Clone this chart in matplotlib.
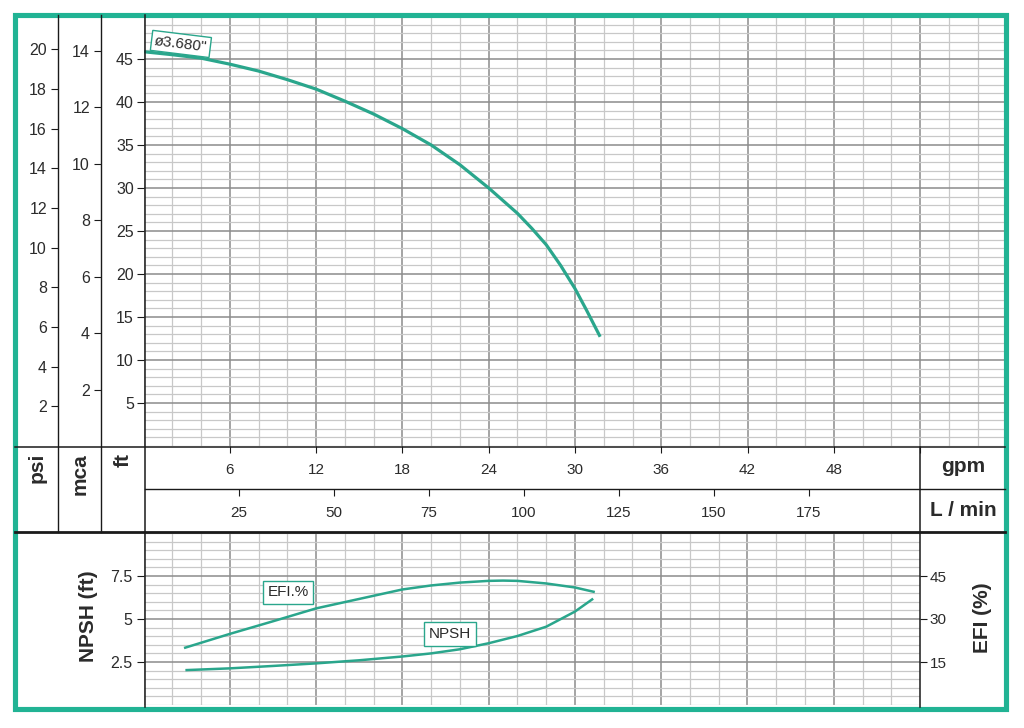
import matplotlib
matplotlib.use("Agg")
import matplotlib.pyplot as plt
import numpy as np
from matplotlib.ticker import MultipleLocator
from matplotlib.patches import Rectangle

plt.rcParams['font.family'] = ['Liberation Sans', 'DejaVu Sans']

# head curve (ft) vs flow (gpm)
gpm_head = [0, 2, 4, 6, 8, 10, 12, 14, 16, 18, 20, 22, 24, 26, 27, 28, 29, 30, 30.8, 31.75]
head_ft = [45.85, 45.5, 45.1, 44.4, 43.6, 42.6, 41.5, 40.1, 38.6, 36.9, 35.0, 32.7, 30.0,
           27.05, 25.3, 23.4, 21.0, 18.3, 15.8, 12.7]

# efficiency (%) vs flow (gpm)
gpm_efi = [2.9, 6, 9, 12, 15, 18, 20, 22, 24, 25, 26, 28, 30, 31.3]
efi_pct = [20.0, 24.8, 29.2, 33.7, 37.0, 40.3, 41.7, 42.7, 43.3, 43.4, 43.3, 42.4, 41.0, 39.5]

# NPSH (ft) vs flow (gpm)
gpm_npsh = [3, 6, 9, 12, 15, 18, 20, 22, 24, 26, 28, 30, 31.2]
npsh_ft = [2.03, 2.13, 2.27, 2.42, 2.6, 2.82, 3.0, 3.24, 3.59, 4.01, 4.55, 5.43, 6.14]

gpm_ticks = [6, 12, 18, 24, 30, 36, 42, 48]
lpm_ticks = [25, 50, 75, 100, 125, 150, 175]
ft_ticks = [5, 10, 15, 20, 25, 30, 35, 40, 45]
psi_ticks = [2, 4, 6, 8, 10, 12, 14, 16, 18, 20]
mca_ticks = [2, 4, 6, 8, 10, 12, 14]
npsh_ticks = [2.5, 5, 7.5]
efi_ticks = [15, 30, 45]

W, H = 1024, 728
TEAL = '#21b394'
CURVE = '#2aa68c'
TXT = '#2b2b2b'
MAJ = '#8c8c8c'
MIN = '#c8c8c8'
BLK = '#1a1a1a'


def box(x0, y0, x1, y1):
    return [x0 / W, 1 - y1 / H, (x1 - x0) / W, (y1 - y0) / H]


def set_grid(ax, ymin):
    ax.xaxis.set_minor_locator(MultipleLocator(2))
    ax.yaxis.set_minor_locator(MultipleLocator(ymin))
    ax.grid(which='major', color=MAJ, lw=1.1)
    ax.grid(which='minor', color=MIN, lw=0.9)
    ax.set_axisbelow(True)
    ax.tick_params(which='minor', length=0)
    for s in ax.spines.values():
        s.set_visible(False)


fig = plt.figure(figsize=(W / 100, H / 100), dpi=100)

# ---- top: head curve ----
ax = fig.add_axes(box(143.5, 16, 1006.5, 446))
ax.set_xlim(0, 60)
ax.set_ylim(0, 50)
ax.set_xticks(np.arange(6, 60, 6), [str(v) if v in gpm_ticks else '' for v in range(6, 60, 6)])
ax.set_yticks(ft_ticks, [str(v) for v in ft_ticks])
set_grid(ax, 1)
ax.tick_params(axis='x', which='major', direction='out', length=5, pad=7,
               labelsize=11, labelcolor=TXT, color=BLK)
ax.tick_params(axis='y', which='major', direction='out', length=5, pad=2,
               labelsize=11.5, labelcolor=TXT, color=BLK)
ax.plot(gpm_head, head_ft, color=CURVE, lw=2.3, solid_capstyle='butt', solid_joinstyle='round')
ax.text(2.6, 46.75, 'ø3.680"', rotation=-7, ha='center', va='center', fontsize=11, color=TXT,
        bbox=dict(boxstyle='square,pad=0.2', fc='white', ec=CURVE, lw=1))

# L/min scale below gpm
sec = ax.secondary_xaxis(-(489 - 446) / 430, functions=(lambda g: g * 3.785, lambda l: l / 3.785))
sec.set_xticks(lpm_ticks)
sec.spines['bottom'].set_visible(False)
sec.tick_params(direction='out', length=5, pad=7, labelsize=11, labelcolor=TXT, color=BLK)

# psi and mca scales
for xpos, top, ticks in [(58, 50 / 2.307, psi_ticks), (101, 50 / 3.281, mca_ticks)]:
    a = fig.add_axes(box(xpos, 16, xpos + 0.5, 446))
    a.set_ylim(0, top)
    a.set_yticks(ticks)
    a.set_xticks([])
    a.patch.set_visible(False)
    for s in a.spines.values():
        s.set_visible(False)
    a.tick_params(axis='y', direction='out', length=5, pad=3, labelsize=11.5,
                  labelcolor=TXT, color=BLK)

# ---- bottom: NPSH and efficiency ----
axb = fig.add_axes(box(143.5, 533, 920, 705))
axb.set_xlim(0, (920 - 143.5) / 14.38)
axb.set_ylim(0, 10)
axb.set_xticks(np.arange(6, 54, 6), [])
axb.set_yticks(npsh_ticks, ['2.5', '5', '7.5'])
set_grid(axb, 0.5)
axb.tick_params(axis='x', which='major', length=0)
axb.tick_params(axis='y', which='major', direction='out', length=5, pad=3,
                labelsize=11.5, labelcolor=TXT, color=BLK)
axb.plot(gpm_npsh, npsh_ft, color=CURVE, lw=1.8, solid_joinstyle='round')

axe = axb.twinx()
axe.set_ylim(0, 60)
axe.set_yticks(efi_ticks)
for s in axe.spines.values():
    s.set_visible(False)
axe.tick_params(axis='y', direction='out', length=5, pad=2, labelsize=11,
                labelcolor=TXT, color=BLK)
axe.plot(gpm_efi, efi_pct, color=CURVE, lw=1.8, solid_joinstyle='round')

axb.text(10.05, 6.55, 'EFI.%', ha='center', va='center', fontsize=11, color=TXT,
         bbox=dict(boxstyle='square,pad=0.3', fc='white', ec=CURVE, lw=1))
axb.text(21.3, 4.13, 'NPSH', ha='center', va='center', fontsize=11, color=TXT,
         bbox=dict(boxstyle='square,pad=0.3', fc='white', ec=CURVE, lw=1))

# ---- frame lines, labels and border ----
ov = fig.add_axes([0, 0, 1, 1], zorder=10)
ov.set_xlim(0, W)
ov.set_ylim(H, 0)
ov.axis('off')
ov.patch.set_visible(False)

ov.plot([15, 1005], [446.5, 446.5], color=BLK, lw=1.1)
ov.plot([144.5, 1005], [489, 489], color=BLK, lw=1.0)
ov.plot([15, 1005], [532, 532], color=BLK, lw=2.0)
ov.plot([58, 58], [15, 532], color=BLK, lw=1.0)
ov.plot([101, 101], [15, 532], color=BLK, lw=1.0)
ov.plot([144.5, 144.5], [15, 707], color=BLK, lw=1.1)
ov.plot([920, 920], [446.5, 707], color=BLK, lw=1.1)

lab = dict(fontsize=15, fontweight='bold', color=TXT)
ov.text(37, 453, 'psi', rotation=90, ha='center', va='top', **lab)
ov.text(80, 453, 'mca', rotation=90, ha='center', va='top', **lab)
ov.text(123, 453, 'ft', rotation=90, ha='center', va='top', **lab)
ov.text(963, 466, 'gpm', ha='center', va='center', **lab)
ov.text(963, 510, 'L / min', ha='center', va='center', **lab)
ov.text(89, 616, 'NPSH (ft)', rotation=90, ha='center', va='center', **lab)
ov.text(982, 618, 'EFI (%)', rotation=90, ha='center', va='center', **lab)

ov.add_patch(Rectangle((15, 15), 990.5, 693.5, fill=False, ec=TEAL, lw=3.7))

fig.savefig('out.png', dpi=100)
